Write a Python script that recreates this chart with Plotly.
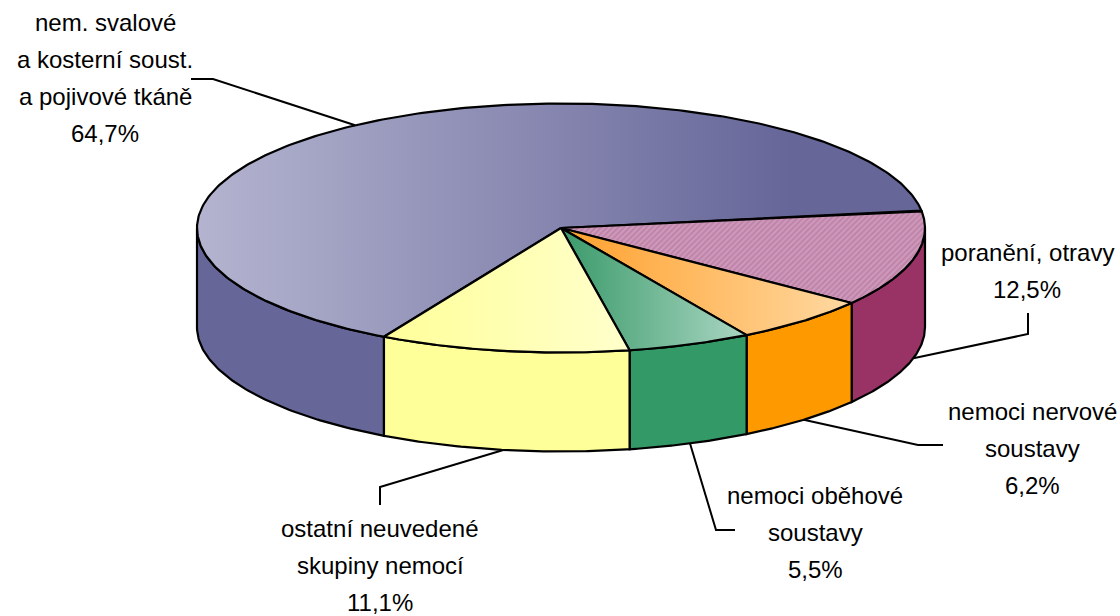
import numpy as np
import plotly.graph_objects as go

# ---------------- data ----------------
categories = [
    "nem. svalové<br>a kosterní soust.<br>a pojivové tkáně",
    "poranění, otravy",
    "nemoci nervové<br>soustavy",
    "nemoci oběhové<br>soustavy",
    "ostatní neuvedené<br>skupiny nemocí",
]
values = [64.7, 12.5, 6.2, 5.5, 11.1]

# ---------------- styles ----------------
top_grad = [
    ["#B4B4D0", "#666699"],
    None,
    ["#FFA02C", "#FFD9A2"],
    ["#3A9A6A", "#AAD6C2"],
    ["#FFFF99", "#FFFFCC"],
]
grad_range = [(197, 790), None, None, None, None]
side_colors = ["#666699", "#993366", "#FF9900", "#339966", "#FFFF99"]

label_pos = [(105, 77.5), (1027, 271), (1032, 448), (815, 532), (380, 565)]
LINE_GAP = 37
leader_elbows = [
    [(213, 79), (191, 79)],
    [(1028, 334), (1028, 313)],
    [(918, 445), (943, 445)],
    [(716, 530), (735, 530)],
    [(380, 487), (380, 505)],
]
FONT = dict(family="Liberation Sans, Arial, sans-serif", size=24, color="black")

# pie geometry (pixel space)
CX, CY, RX, RY, DEPTH = 561, 228, 364, 124.5, 99
START_DEG = 240.9  # first slice starts here, slices go clockwise

def pt(t_deg, dz=0.0):
    t = np.radians(t_deg)
    return CX + RX * np.cos(t), CY - RY * np.sin(t) + dz

def fmt(v):
    return f"{v:.1f}".replace(".", ",") + "%"

total = sum(values)
slices = []
hi = START_DEG
for v in values:
    lo = hi - v / total * 360.0
    slices.append((lo, hi))
    hi = lo

fig = go.Figure()

def front_parts(lo, hi):
    parts = []
    for a, b in [(-180, 0), (180, 360), (-540, -360)]:
        s, e = max(lo, a), min(hi, b)
        if e > s:
            parts.append((s, e))
    return parts

# side walls
for i, (lo, hi) in enumerate(slices):
    for s, e in front_parts(lo, hi):
        ts = np.linspace(s, e, 80)
        xt, yt = pt(ts)
        xb, yb = pt(ts[::-1], DEPTH)
        xs = np.concatenate([xt, xb, xt[:1]])
        ys = np.concatenate([yt, yb, yt[:1]])
        fig.add_trace(go.Scatter(x=xs, y=ys, mode="lines", fill="toself",
                                 fillcolor=side_colors[i],
                                 line=dict(color="black", width=2.2),
                                 hoverinfo="skip", showlegend=False))

# top faces
for i, (lo, hi) in enumerate(slices):
    ts = np.linspace(hi, lo, 300)
    xa, ya = pt(ts)
    xs = np.concatenate([[CX], xa, [CX]])
    ys = np.concatenate([[CY], ya, [CY]])
    kw = {}
    if top_grad[i] is not None:
        g = dict(type="horizontal",
                 colorscale=[[0, top_grad[i][0]], [1, top_grad[i][1]]])
        if grad_range[i] is not None:
            g["start"], g["stop"] = grad_range[i]
        kw["fillgradient"] = g
    else:
        kw["fillcolor"] = "#C78EB2"
        kw["fillpattern"] = dict(shape="/", bgcolor="#BF82A9",
                                 fgcolor="#DEB4CD", size=4, solidity=0.5)
    fig.add_trace(go.Scatter(x=xs, y=ys, mode="lines", fill="toself",
                             line=dict(color="black", width=2.2),
                             hoverinfo="skip", showlegend=False, **kw))

# leader lines + labels
for i, (lo, hi) in enumerate(slices):
    mid = (lo + hi) / 2
    front = np.sin(np.radians(mid)) < 0
    ax, ay = pt(mid, DEPTH if front else 0)
    px = [ax] + [p[0] for p in leader_elbows[i]]
    py = [ay] + [p[1] for p in leader_elbows[i]]
    fig.add_trace(go.Scatter(x=px, y=py, mode="lines",
                             line=dict(color="black", width=2),
                             hoverinfo="skip", showlegend=False))
    lines = categories[i].split("<br>") + [fmt(values[i])]
    n = len(lines)
    for k, txt in enumerate(lines):
        fig.add_annotation(x=label_pos[i][0],
                           y=label_pos[i][1] + (k - (n - 1) / 2) * LINE_GAP,
                           text=txt, showarrow=False,
                           xanchor="center", yanchor="middle",
                           font=FONT)

fig.update_layout(
    width=1120, height=616,
    margin=dict(l=0, r=0, t=0, b=0),
    paper_bgcolor="white", plot_bgcolor="white",
    xaxis=dict(range=[0, 1120], visible=False, fixedrange=True),
    yaxis=dict(range=[616, 0], visible=False, fixedrange=True),
    showlegend=False,
)

fig.write_html("out.html", config={"displayModeBar": False},
               post_script="document.body.style.margin='0';")
